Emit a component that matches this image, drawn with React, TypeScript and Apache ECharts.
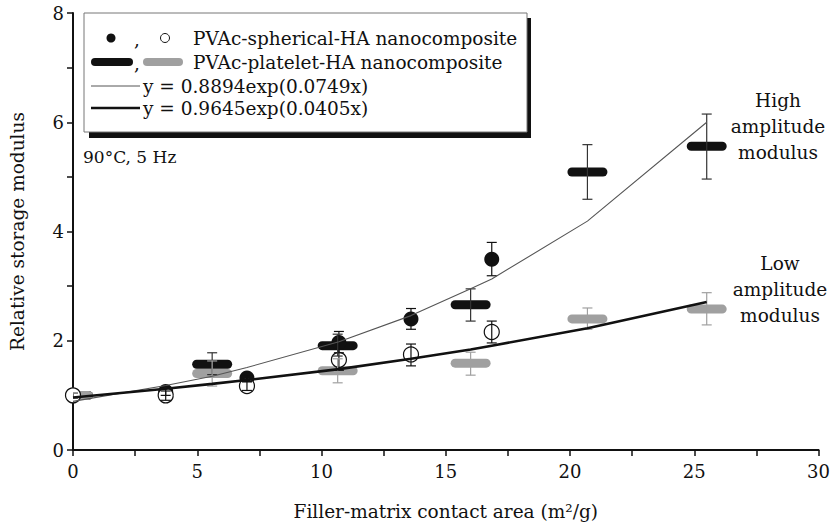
import React, { useEffect, useRef } from "react";
import * as echarts from "echarts";

const FONT = "DejaVu Serif";

// Spherical HA: filled (high amplitude) and open (low amplitude) circles
const sphX = [0, 3.73, 7.0, 10.7, 13.6, 16.85];
const sphHigh = [1.0, 1.07, 1.32, 1.97, 2.4, 3.49];
const sphHighLo = [0.95, 1.0, 1.25, 1.78, 2.21, 3.19];
const sphHighHi = [1.05, 1.13, 1.38, 2.17, 2.59, 3.8];
const sphLow = [1.0, 1.0, 1.17, 1.65, 1.75, 2.16];
const sphLowLo = [0.95, 0.91, 1.09, 1.46, 1.54, 1.96];
const sphLowHi = [1.05, 1.08, 1.25, 1.85, 1.94, 2.36];

// Platelet HA: black (high amplitude) and gray (low amplitude) bars
const platX = [0, 5.6, 10.65, 16.0, 20.7, 25.5];
const platHigh = [1.0, 1.57, 1.91, 2.66, 5.09, 5.56];
const platHighLo = [0.95, 1.38, 1.72, 2.36, 4.59, 4.96];
const platHighHi = [1.05, 1.78, 2.12, 2.95, 5.59, 6.15];
const platLow = [1.0, 1.4, 1.45, 1.59, 2.4, 2.58];
const platLowLo = [0.95, 1.17, 1.23, 1.37, 2.21, 2.29];
const platLowHi = [1.05, 1.63, 1.67, 1.79, 2.6, 2.88];

// Fitted curves, read at the data x positions
const fitX = [0, 3.73, 5.6, 7.0, 10.7, 13.6, 16.0, 16.85, 20.7, 25.5];
const fitHigh = [0.89, 1.18, 1.35, 1.51, 1.98, 2.46, 2.95, 3.13, 4.19, 6.0];
const fitLow = [0.96, 1.12, 1.21, 1.28, 1.48, 1.67, 1.84, 1.91, 2.23, 2.71];

const xTicks = [0, 5, 10, 15, 20, 25, 30];
const yTicks = [0, 2, 4, 6, 8];

const legendLabels = [
  "PVAc-spherical-HA nanocomposite",
  "PVAc-platelet-HA nanocomposite",
  "y = 0.8894exp(0.0749x)",
  "y = 0.9645exp(0.0405x)",
];

const BLACK = "#111111";
const GRAY = "#a0a0a0";
const FS = 18.5;

function pairs(xs: number[], ys: number[]) {
  return xs.map((x, i) => [x, ys[i]]);
}
function errTriples(xs: number[], lo: number[], hi: number[]) {
  return xs.map((x, i) => [x, lo[i], hi[i]]);
}

function errorSeries(name: string, data: number[][], color: string, width: number) {
  return {
    type: "custom",
    name,
    z: 5,
    clip: true,
    data,
    renderItem: (params: any, api: any) => {
      const x = api.value(0);
      const lo = api.coord([x, api.value(1)]);
      const hi = api.coord([x, api.value(2)]);
      const cw = 5;
      const st = { stroke: color, lineWidth: width, fill: "none" };
      return {
        type: "group",
        children: [
          { type: "line", shape: { x1: lo[0], y1: lo[1], x2: hi[0], y2: hi[1] }, style: st },
          { type: "line", shape: { x1: lo[0] - cw, y1: lo[1], x2: lo[0] + cw, y2: lo[1] }, style: st },
          { type: "line", shape: { x1: hi[0] - cw, y1: hi[1], x2: hi[0] + cw, y2: hi[1] }, style: st },
        ],
      };
    },
  };
}

function barSeries(name: string, data: number[][], color: string) {
  return {
    type: "custom",
    name,
    z: 3,
    data,
    renderItem: (params: any, api: any) => {
      const p = api.coord([api.value(0), api.value(1)]);
      const cs = params.coordSys;
      const r = echarts.graphic.clipRectByRect(
        { x: p[0] - 20, y: p[1] - 4.5, width: 40, height: 9 },
        { x: cs.x, y: cs.y, width: cs.width, height: cs.height }
      );
      if (!r) return null;
      return {
        type: "rect",
        shape: { x: r.x, y: r.y, width: r.width, height: r.height, r: 4.5 },
        style: { fill: color },
      };
    },
  };
}

export default function App() {
  const ref = useRef<HTMLDivElement>(null);
  useEffect(() => {
    if (!ref.current) return;
    const chart = echarts.init(ref.current, null, { renderer: "svg" });
    const axisCommon = {
      axisLine: { show: true, lineStyle: { color: BLACK, width: 2 } },
      axisTick: { show: true, inside: false, length: 6, lineStyle: { color: BLACK, width: 1.5 } },
      splitLine: { show: false },
      nameTextStyle: { fontFamily: FONT, fontSize: FS, color: BLACK },
    };
    const legendX = 84;
    const rowY = [38, 62, 86, 108];
    const txt = (x: number, y: number, text: string, extra: any = {}) => ({
      type: "text",
      z: 102,
      style: { x, y, text, fontFamily: FONT, fontSize: FS, fill: BLACK, verticalAlign: "middle", ...extra },
    });
    chart.setOption({
      animation: false,
      backgroundColor: "#ffffff",
      textStyle: { fontFamily: FONT },
      grid: { left: 73, right: 12, top: 13, bottom: 76 },
      xAxis: {
        type: "value",
        min: 0,
        max: 30,
        interval: 2.5,
        name: "Filler-matrix contact area (m\u00b2/g)",
        nameLocation: "middle",
        nameGap: 52,
        ...axisCommon,
        axisLabel: {
          margin: 12,
          fontFamily: FONT,
          fontSize: 18,
          color: BLACK,
          formatter: (v: number) => (xTicks.includes(v) ? String(v) : ""),
        },
      },
      yAxis: {
        type: "value",
        min: 0,
        max: 8,
        interval: 1,
        name: "Relative storage modulus",
        nameLocation: "middle",
        nameGap: 46,
        ...axisCommon,
        axisLabel: {
          margin: 9,
          fontFamily: FONT,
          fontSize: 18,
          color: BLACK,
          formatter: (v: number) => (yTicks.includes(v) ? String(v) : ""),
        },
      },
      series: [
        barSeries("platelet high", pairs(platX, platHigh), BLACK),
        barSeries("platelet low", pairs(platX, platLow), GRAY),
        {
          type: "scatter",
          name: "spherical high",
          z: 4,
          symbol: "circle",
          symbolSize: 15,
          itemStyle: { color: BLACK, opacity: 1 },
          data: pairs(sphX, sphHigh),
        },
        {
          type: "scatter",
          name: "spherical low",
          z: 4,
          symbol: "circle",
          symbolSize: 15,
          itemStyle: { color: "#ffffff", borderColor: BLACK, borderWidth: 1.2, opacity: 1 },
          data: pairs(sphX, sphLow),
        },
        errorSeries("err sph high", errTriples(sphX, sphHighLo, sphHighHi), BLACK, 1.2),
        errorSeries("err sph low", errTriples(sphX, sphLowLo, sphLowHi), BLACK, 1.2),
        errorSeries("err plat high", errTriples(platX, platHighLo, platHighHi), "#333333", 1.2),
        errorSeries("err plat low", errTriples(platX, platLowLo, platLowHi), GRAY, 1.2),
        {
          type: "line",
          name: "fit high",
          z: 6,
          showSymbol: false,
          symbol: "none",
          lineStyle: { color: "#555555", width: 1.1 },
          data: pairs(fitX, fitHigh),
        },
        {
          type: "line",
          name: "fit low",
          z: 6,
          showSymbol: false,
          symbol: "none",
          lineStyle: { color: BLACK, width: 2.6 },
          data: pairs(fitX, fitLow),
        },
      ],
      graphic: [
        { type: "rect", z: 100, shape: { x: legendX + 5, y: 18, width: 442, height: 120 }, style: { fill: "#111111" } },
        { type: "rect", z: 101, shape: { x: legendX, y: 13, width: 443, height: 119 }, style: { fill: "#ffffff", stroke: "#777777", lineWidth: 1 } },
        { type: "circle", z: 102, shape: { cx: 111, cy: rowY[0], r: 4.5 }, style: { fill: BLACK } },
        txt(134, rowY[0] + 1, ","),
        { type: "circle", z: 102, shape: { cx: 165, cy: rowY[0], r: 4.5 }, style: { fill: "#ffffff", stroke: BLACK, lineWidth: 1 } },
        { type: "rect", z: 102, shape: { x: 91, y: rowY[1] - 4, width: 42, height: 8, r: 4 }, style: { fill: BLACK } },
        txt(134, rowY[1] + 1, ","),
        { type: "rect", z: 102, shape: { x: 143, y: rowY[1] - 4, width: 40, height: 8, r: 4 }, style: { fill: GRAY } },
        { type: "line", z: 102, shape: { x1: 91, y1: rowY[2], x2: 140, y2: rowY[2] }, style: { stroke: "#555555", lineWidth: 1 } },
        { type: "line", z: 102, shape: { x1: 91, y1: rowY[3], x2: 140, y2: rowY[3] }, style: { stroke: BLACK, lineWidth: 2.6 } },
        ...legendLabels.map((t, i) => txt(i < 2 ? 193 : 143, rowY[i], t)),
        txt(83, 157, "90\u00b0C, 5 Hz", { fontSize: 17 }),
        txt(778, 126, "High\namplitude\nmodulus", { lineHeight: 26, align: "center" }),
        txt(780, 289, "Low\namplitude\nmodulus", { lineHeight: 26, align: "center" }),
      ],
    });
    return () => chart.dispose();
  }, []);
  return <div ref={ref} style={{ position: "absolute", left: 0, top: 0, width: 833, height: 526 }} />;
}
